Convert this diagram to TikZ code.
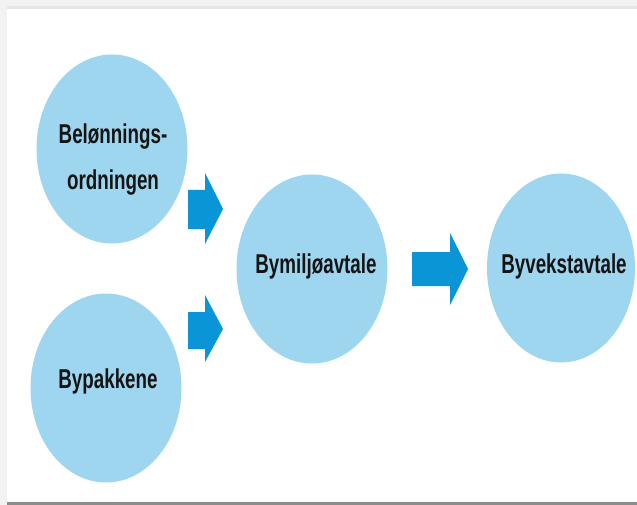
\documentclass[tikz,border=0pt]{standalone}
\usepackage{fontspec}
\setmainfont{Liberation Sans}
\usetikzlibrary{shapes.geometric}
\definecolor{bgGray}{HTML}{F2F2F2}
\definecolor{edgeGray}{HTML}{E6E6E6}
\definecolor{baseGray}{HTML}{8C8C8C}
\definecolor{bubble}{HTML}{9FD6EF}
\definecolor{arrowBlue}{HTML}{0A96D6}
\definecolor{ink}{HTML}{141414}
\tikzset{
  bubblenode/.style={ellipse, fill=bubble, draw=none, inner sep=0pt,
    minimum width=151pt, minimum height=189pt},
  labelnode/.style={anchor=base, inner sep=0pt, text=ink,
    font=\fontsize{18.8}{32.4}\selectfont\bfseries},
  blockarrow/.style={fill=arrowBlue, draw=none}
}
\newcommand{\tallText}[1]{\scalebox{1}[1.45]{#1}}
\begin{document}
\begin{tikzpicture}[x=1pt,y=-1pt]
  \useasboundingbox (0,0) rectangle (637,505);
  % frame
  \fill[bgGray] (0,0) rectangle (637,505);
  \fill[edgeGray] (7,6) rectangle (637,9);
  \fill[white] (7,9) rectangle (637,502);
  \fill[baseGray] (7,502) rectangle (637,505);
  % bubbles
  \node[bubblenode] (bel) at (112,149) {};
  \node[bubblenode] (byp) at (106,388) {};
  \node[bubblenode] (bym) at (312,269) {};
  \node[bubblenode, minimum width=148pt] (byv) at (561,268) {};
  % labels
  \node[labelnode] (belT) at (113,190)
    {\tallText{\begin{tabular}[b]{@{}c@{}}Belønnings-\\ordningen\end{tabular}}};
  \node[labelnode] (bypT) at (108,388) {\tallText{Bypakkene}};
  \node[labelnode] (bymT) at (316,273) {\tallText{Bymiljøavtale}};
  \node[labelnode] (byvT) at (564,273) {\tallText{Byvekstavtale}};
  % block arrows
  \fill[blockarrow] (188,190) -- (205,190) -- (205,173) -- (223,209)
    -- (205,244) -- (205,229) -- (188,229) -- cycle;
  \fill[blockarrow] (188,312) -- (205,312) -- (205,295) -- (223,329)
    -- (205,362) -- (205,349) -- (188,349) -- cycle;
  \fill[blockarrow] (412,252) -- (450,252) -- (450,233) -- (468,269)
    -- (450,305) -- (450,286) -- (412,286) -- cycle;
\end{tikzpicture}
\end{document}
